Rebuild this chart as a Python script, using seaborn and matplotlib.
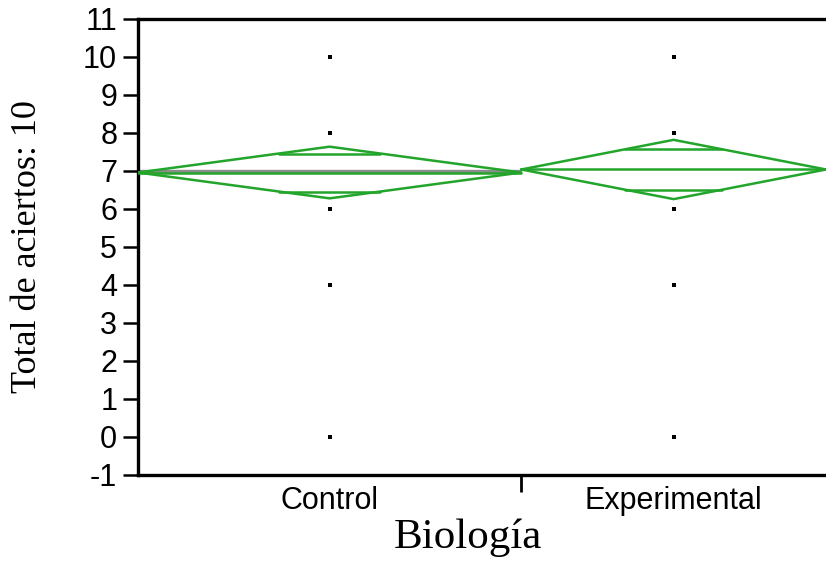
import numpy as np
import pandas as pd
import matplotlib
matplotlib.use("Agg")
import matplotlib.pyplot as plt
import seaborn as sns

# ---- data ----
groups = ["Control", "Experimental"]
group_widths = [1.0, 0.795]          # JMP widths proportional to group size
group_means = [6.96, 7.04]
diamond_half = [0.68, 0.78]           # 95% CI half-height
overlap_half = [0.50, 0.53]           # overlap marks
grand_mean = 6.99
point_values = {
    "Control": [0, 4, 6, 8, 10],
    "Experimental": [0, 4, 6, 8, 10],
}
yticks = list(range(-1, 12))

sns.set_style("ticks")
plt.rcParams["font.family"] = ["Liberation Sans", "DejaVu Sans"]

fig = plt.figure(figsize=(8.26, 5.62), dpi=100)
ax = fig.add_axes([138 / 826, (562 - 475) / 562, (826 - 138) / 826, (475 - 19) / 562])

green = "#22a52a"
starts = np.concatenate([[0], np.cumsum(group_widths)[:-1]])
centers = starts + np.array(group_widths) / 2

# grand mean line across the Control group
ax.plot([starts[0], starts[0] + group_widths[0]], [grand_mean, grand_mean],
        color="#8c8c8c", lw=2.4, zorder=2, solid_capstyle="butt")

for i, g in enumerate(groups):
    x0, w, m, h, o = starts[i], group_widths[i], group_means[i], diamond_half[i], overlap_half[i]
    c = x0 + w / 2
    xs = [x0, c, x0 + w, c, x0]
    ys = [m, m + h, m, m - h, m]
    ax.plot(xs, ys, color=green, lw=1.8, zorder=3, clip_on=True)
    ax.plot([x0, x0 + w], [m, m], color=green, lw=1.8, zorder=3)
    hw = (w / 2) * (1 - o / h)
    for s in (1, -1):
        ax.plot([c - hw, c + hw], [m + s * o, m + s * o], color=green, lw=1.8, zorder=3)

rows = []
for i, g in enumerate(groups):
    for v in point_values[g]:
        rows.append({"x": centers[i], "y": v})
df = pd.DataFrame(rows)
sns.scatterplot(data=df, x="x", y="y", ax=ax, marker="s", s=9, color="black",
                edgecolor="black", linewidth=0, zorder=4)

ax.set_xlim(0, sum(group_widths))
ax.set_ylim(-1, 11)
ax.set_yticks(yticks)
ax.set_yticklabels([str(t) for t in yticks], fontsize=22, color="black")
ax.tick_params(axis="y", length=11, width=1.8, pad=4, colors="black")

# group labels at centers (no tick marks), boundary tick without label
ax.set_xticks([starts[1]])
ax.set_xticklabels([""])
ax.tick_params(axis="x", length=12, width=2, direction="out", colors="black")
for i, g in enumerate(groups):
    ax.text(centers[i], -1.28, g, ha="center", va="top", fontsize=22,
            color="black", transform=ax.transData)

ax.set_xlabel("Biología", fontsize=31, family=["Liberation Serif", "DejaVu Serif"],
              labelpad=16, color="black")
ax.xaxis.set_label_coords(0.48, -0.095)
ax.xaxis.label.set_va("top")
ax.set_ylabel("Total de aciertos: 10", fontsize=26, family=["Liberation Serif", "DejaVu Serif"],
              labelpad=28, color="black")

for sp in ["left", "bottom", "top"]:
    ax.spines[sp].set_linewidth(2.4)
    ax.spines[sp].set_color("black")
ax.spines["right"].set_visible(False)

fig.savefig("out.png", dpi=100)
